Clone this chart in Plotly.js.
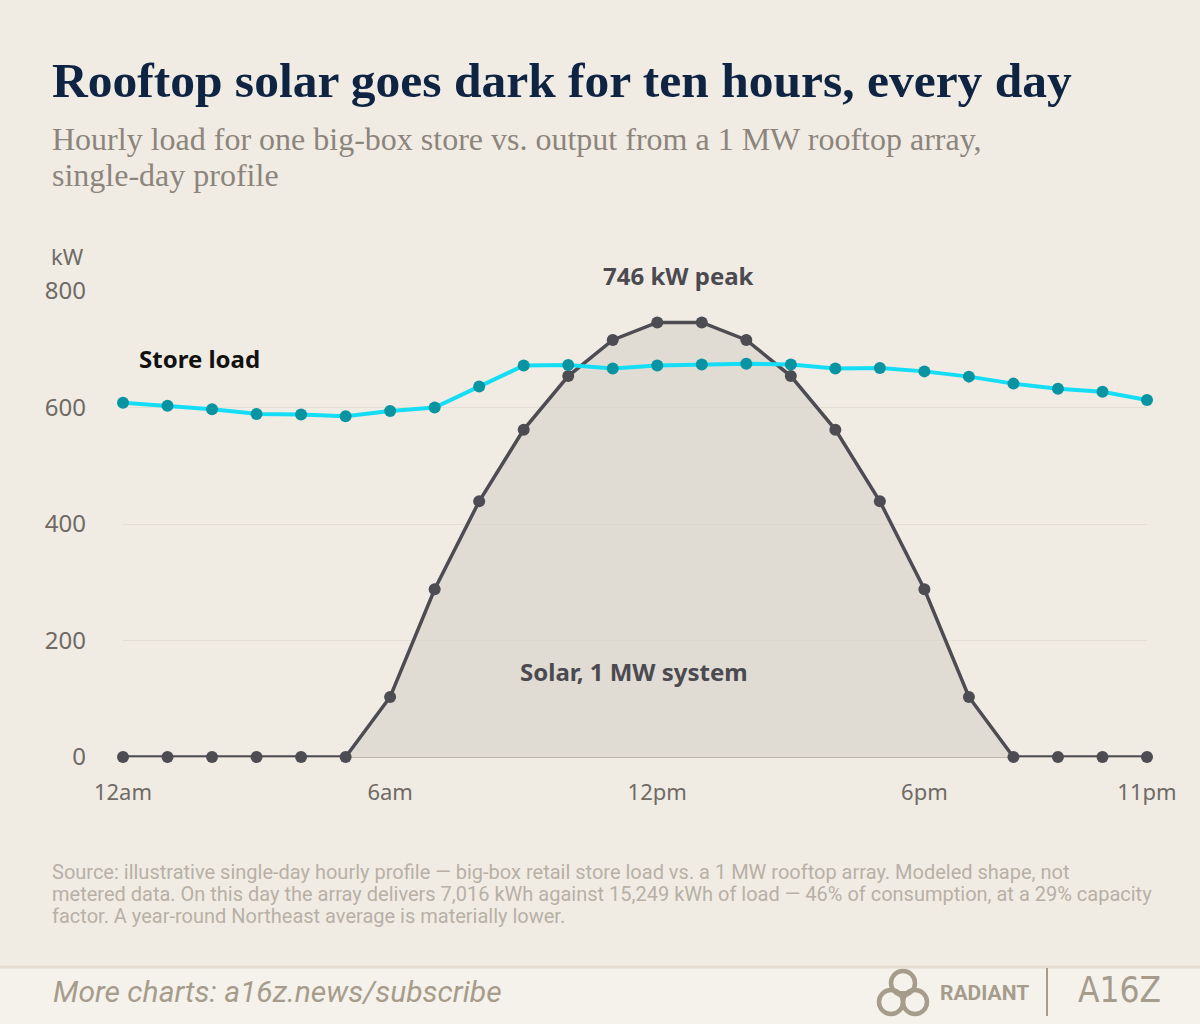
<!DOCTYPE html>
<html>
<head>
<meta charset="utf-8">
<script src="https://cdn.plot.ly/plotly-3.0.1.min.js"></script>
<style>
  html, body { margin: 0; padding: 0; background: #F0ECE4; }
  #chart { width: 1200px; height: 1024px; }
</style>
</head>
<body>
<div id="chart"></div>
<script>
// ---- data ----
const hours = [0,1,2,3,4,5,6,7,8,9,10,11,12,13,14,15,16,17,18,19,20,21,22,23];
const storeLoad = [608,603,597,589,588,585,594,600,636,672,673,667,672,674,675,674,667,668,662,653,641,632,627,613];
const solar = [0,0,0,0,0,0,103,288,439,562,654,716,746,746,716,654,562,439,288,103,0,0,0,0];
const tickHours = [0,6,12,18,23];
const tickLabels = ['12am','6am','12pm','6pm','11pm'];
const yTicks = [0,200,400,600,800];

// ---- pixel -> paper helpers (plot area: x 123..1147, y 291..757) ----
const L = 123, R = 1147, T = 291, B = 757;
const px = x => (x - L) / (R - L);
const py = y => (B - y) / (B - T);

const sans = 'Noto Sans, Lato, sans-serif';
const serif = 'Liberation Serif, DejaVu Serif, serif';
const tan = '#A69C8B';
const srcFont = {family: 'Roboto, sans-serif', size: 20, color: '#B8B0A5'};

const traces = [
  {
    x: hours, y: solar, type: 'scatter', mode: 'lines+markers',
    fill: 'tozeroy', fillcolor: 'rgba(214,210,200,0.62)',
    line: {color: '#4D4C52', width: 3.5},
    marker: {color: '#4D4C52', size: 12},
    cliponaxis: false, hoverinfo: 'skip', showlegend: false
  },
  {
    x: hours, y: storeLoad, type: 'scatter', mode: 'lines+markers',
    line: {color: '#14DDF5', width: 4},
    marker: {color: '#0A94A2', size: 12},
    cliponaxis: false, hoverinfo: 'skip', showlegend: false
  }
];

const annotations = [
  {text: '<b>Rooftop solar goes dark for ten hours, every day</b>', x: px(50), y: py(80),
   xanchor: 'left', yanchor: 'middle', font: {family: serif, size: 49.5, color: '#0E2442'}},
  {text: 'Hourly load for one big-box store vs. output from a 1 MW rooftop array,',
   x: px(50), y: py(139), xanchor: 'left', yanchor: 'middle',
   font: {family: serif, size: 32, color: '#8C857C'}},
  {text: 'single-day profile',
   x: px(50), y: py(175), xanchor: 'left', yanchor: 'middle',
   font: {family: serif, size: 32, color: '#8C857C'}},
  {text: 'kW', x: px(67), y: py(256), xanchor: 'center', yanchor: 'middle',
   font: {family: sans, size: 22, color: '#6F6A64'}},
  {text: '<b>Store load</b>', x: px(137), y: py(358), xanchor: 'left', yanchor: 'middle',
   font: {family: sans, size: 24, color: '#111111'}},
  {text: '<b>746 kW peak</b>', x: px(678), y: py(275), xanchor: 'center', yanchor: 'middle',
   font: {family: sans, size: 24, color: '#4B4A50'}},
  {text: '<b>Solar, 1 MW system</b>', x: px(634), y: py(671), xanchor: 'center', yanchor: 'middle',
   font: {family: sans, size: 24, color: '#4B4A50'}},
  {text: 'Source: illustrative single-day hourly profile — big-box retail store load vs. a 1 MW rooftop array. Modeled shape, not',
   x: px(50), y: py(872), xanchor: 'left', yanchor: 'middle', font: srcFont},
  {text: 'metered data. On this day the array delivers 7,016 kWh against 15,249 kWh of load — 46% of consumption, at a 29% capacity',
   x: px(50), y: py(894), xanchor: 'left', yanchor: 'middle', font: srcFont},
  {text: 'factor. A year-round Northeast average is materially lower.',
   x: px(50), y: py(916), xanchor: 'left', yanchor: 'middle', font: srcFont},
  {text: '<i>More charts: a16z.news/subscribe</i>', x: px(51), y: py(992), xanchor: 'left', yanchor: 'middle',
   font: {family: 'Roboto, sans-serif', size: 30, color: tan}},
  {text: '<b>RADIANT</b>', x: px(938), y: py(993), xanchor: 'left', yanchor: 'middle',
   font: {family: 'Roboto, sans-serif', size: 21, color: tan}},
  {text: 'A16Z', x: px(1076), y: py(990), xanchor: 'left', yanchor: 'middle',
   font: {family: 'Liberation Sans Narrow, DejaVu Sans Condensed, sans-serif', size: 35, color: tan}}
];
annotations.forEach(a => { a.xref = 'paper'; a.yref = 'paper'; a.showarrow = false; });

function circ(cx, cy, r, color, w) {
  return {type: 'circle', xref: 'paper', yref: 'paper',
    x0: px(cx - r), x1: px(cx + r), y0: py(cy + r), y1: py(cy - r),
    line: {color: color, width: w}};
}

const shapes = [
  // footer band
  {type: 'rect', xref: 'paper', yref: 'paper', x0: px(0), x1: px(1200), y0: py(1024), y1: py(966),
   fillcolor: '#F5F2EC', line: {width: 0}, layer: 'below'},
  {type: 'line', xref: 'paper', yref: 'paper', x0: px(0), x1: px(1200), y0: py(967), y1: py(967),
   line: {color: '#E3DCCE', width: 3}},
  // separator between logos
  {type: 'line', xref: 'paper', yref: 'paper', x0: px(1047), x1: px(1047), y0: py(968), y1: py(1016),
   line: {color: tan, width: 2}},
  // Radiant mark (interlocking rings)
  circ(903, 983, 12, tan, 4.5),
  circ(891, 1002, 12, tan, 4.5),
  circ(915, 1002, 12, tan, 4.5),
  {type: 'path', xref: 'paper', yref: 'paper',
   path: `M ${px(898)} ${py(991)} L ${px(908)} ${py(991)} L ${px(903)} ${py(999)} Z`,
   fillcolor: tan, line: {width: 0}}
];

const layout = {
  width: 1200, height: 1024,
  paper_bgcolor: '#F0ECE4', plot_bgcolor: 'rgba(0,0,0,0)',
  margin: {l: L, r: 1200 - R, t: T, b: 1024 - B, autoexpand: false},
  xaxis: {
    range: [0, 23], tickvals: tickHours, ticktext: tickLabels,
    showgrid: false, zeroline: false, showline: false, ticks: '',
    ticklabelstandoff: 20,
    tickfont: {family: sans, size: 22, color: '#6F6A64'}, fixedrange: true
  },
  yaxis: {
    range: [0, 800], tickvals: yTicks,
    showgrid: true, gridcolor: '#E5DFD3', gridwidth: 1,
    zeroline: true, zerolinecolor: '#BDB6AB', zerolinewidth: 1,
    showline: false, ticks: '', ticklabelstandoff: 36,
    tickfont: {family: sans, size: 24, color: '#6F6A64'}, fixedrange: true
  },
  annotations: annotations,
  shapes: shapes
};

Plotly.newPlot('chart', traces, layout, {displayModeBar: false, staticPlot: true});
</script>
</body>
</html>
